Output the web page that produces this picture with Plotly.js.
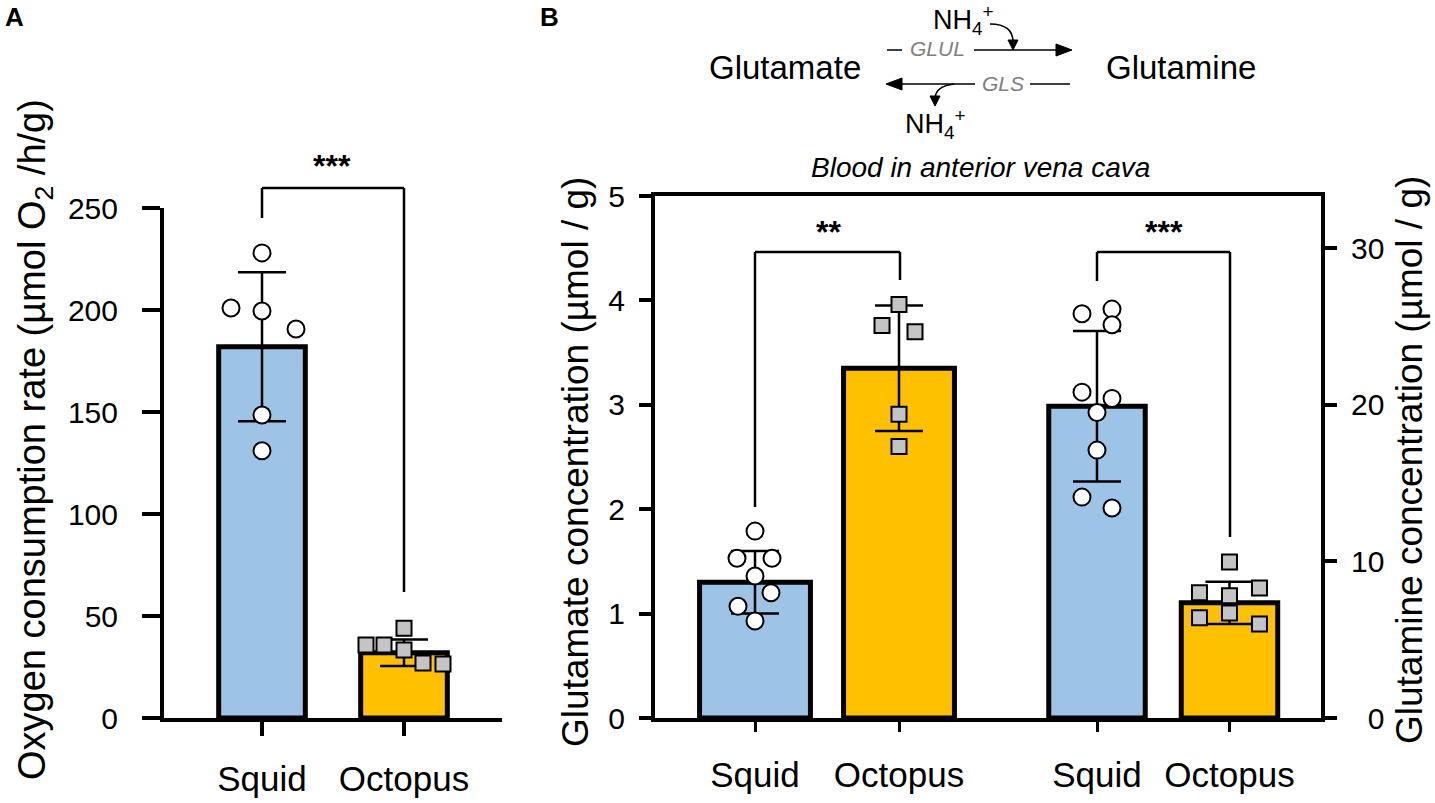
<!DOCTYPE html>
<html>
<head>
<meta charset="utf-8">
<script src="https://cdn.plot.ly/plotly-3.0.1.min.js"></script>
<style>body{margin:0;background:#fff}#chart{width:1435px;height:803px}</style>
</head>
<body>
<div id="chart"></div>
<script>
// ---------- data ----------
const speciesLabels = ['Squid', 'Octopus'];
const o2Mean = [182, 32];
const o2SD = [36.5, 6.5];
const o2Squid = [228, 201, 199.5, 190.7, 148.5, 131];
const o2Octopus = [35.8, 35.8, 44, 33.3, 27, 26.5];
const gluMean = [1.30, 3.35];
const gluSD = [0.30, 0.60];
const gluSquid = [1.79, 1.53, 1.53, 1.36, 1.20, 1.07, 0.93];
const gluOctopus = [3.96, 3.76, 3.70, 2.91, 2.60];
const glnMean = [19.9, 7.35];
const glnSD = [4.8, 1.35];
const glnSquid = [25.8, 26.1, 25.1, 20.8, 20.4, 19.5, 17.1, 14.1, 13.4];
const glnOctopus = [9.96, 8.3, 8.0, 7.8, 6.7, 6.4, 6.0];
const glnTickVals = [0, 10, 20, 30];
const glnTickText = ['\u20070', '10', '20', '30'];
const sigA = '***', sigGlu = '**', sigGln = '***';

// ---------- layout helpers (positions/styles) ----------
const W = 1435, H = 803;
const px = x => x / W, py = y => 1 - y / H;
const FONT = 'Liberation Sans, Arial, sans-serif';
const BLUE = '#9dc3e6', GOLD = '#ffc000', GREY = '#c4c4c4';
// point scatter offsets (pixels), relative to bar centre
const jitA = [[0, -31, 0, 34, 0, 0], [-38, -20, 0, 0, 19, 39]];
const jitGlu = [[0, -18, 17, 0, 16, -17, 0], [0, -17, 16, 0, 0]];
const jitGln = [[-15, 15, 15, -15, 15, 0, 0, -15, 15], [0, 30, -30, 0, 0, -30, 30]];
const unitA = 142, unitB = 144;
const posA = [0, 1];
const posGlu = [0, 1];
const posGln = [2.375, 3.295];

function pts(vals, pos, jit, unit, xa, ya, sym) {
  return {
    type: 'scatter', mode: 'markers', xaxis: xa, yaxis: ya, hoverinfo: 'skip', showlegend: false,
    x: vals.map((v, i) => pos + jit[i] / unit), y: vals,
    marker: sym === 'circle'
      ? {symbol: 'circle', size: 17, color: '#ffffff', line: {color: '#000', width: 2}}
      : {symbol: 'square', size: 15, color: GREY, line: {color: '#000', width: 2}}
  };
}
function bars(means, sd, pos, width, xa, ya) {
  return {
    type: 'bar', xaxis: xa, yaxis: ya, x: pos, y: means, width: width, showlegend: false,
    marker: {color: [BLUE, GOLD], line: {color: '#000', width: 5}},
    error_y: {type: 'data', array: sd, visible: true, color: '#000', thickness: 2.5, width: 24}
  };
}

const traces = [
  bars(o2Mean, o2SD, posA, 0.61, 'x', 'y'),
  pts(o2Squid, posA[0], jitA[0], unitA, 'x', 'y', 'circle'),
  pts(o2Octopus, posA[1], jitA[1], unitA, 'x', 'y', 'square'),
  bars(gluMean, gluSD, posGlu, 0.77, 'x2', 'y2'),
  pts(gluSquid, posGlu[0], jitGlu[0], unitB, 'x2', 'y2', 'circle'),
  pts(gluOctopus, posGlu[1], jitGlu[1], unitB, 'x2', 'y2', 'square'),
  bars(glnMean, glnSD, posGln, 0.67, 'x2', 'y3'),
  pts(glnSquid, posGln[0], jitGln[0], unitB, 'x2', 'y3', 'circle'),
  pts(glnOctopus, posGln[1], jitGln[1], unitB, 'x2', 'y3', 'square')
];

const axBase = {showline: true, linecolor: '#000', showgrid: false, zeroline: false, ticks: 'outside',
  tickcolor: '#000', fixedrange: true};

const line = (x0, y0, x1, y1, w) => ({type: 'line', xref: 'paper', yref: 'paper', x0: px(x0), y0: py(y0), x1: px(x1), y1: py(y1),
  line: {color: '#000', width: w || 2.5}});
const tri = (a, b, c) => ({type: 'path', xref: 'paper', yref: 'paper',
  path: `M ${px(a[0])},${py(a[1])} L ${px(b[0])},${py(b[1])} L ${px(c[0])},${py(c[1])} Z`,
  fillcolor: '#000', line: {color: '#000', width: 1}});
const curve = (a, c, b) => ({type: 'path', xref: 'paper', yref: 'paper',
  path: `M ${px(a[0])},${py(a[1])} Q ${px(c[0])},${py(c[1])} ${px(b[0])},${py(b[1])}`,
  line: {color: '#000', width: 1.5}});

const shapes = [
  // significance brackets
  line(262, 218, 262, 188), line(262, 188, 404, 188), line(404, 188, 404, 592),
  line(755, 507, 755, 252), line(755, 252, 900, 252), line(900, 252, 900, 280),
  line(1097, 281, 1097, 252), line(1097, 252, 1230, 252), line(1230, 252, 1230, 537),
  // reaction scheme
  line(887, 50, 902, 50, 1.5), line(974, 50, 1058, 50, 1.5), tri([1072, 50], [1056, 44], [1056, 56]),
  line(900, 84, 975, 84, 1.5), tri([886, 84], [902, 78], [902, 90]), line(1030, 84, 1070, 84, 1.5),
  curve([990, 24], [1013, 24], [1013, 42]), tri([1013, 50], [1008, 40], [1018, 40]),
  curve([954, 84], [936, 86], [935, 98]), tri([935, 106], [930, 96], [940, 96])
];

const ann = (t, x, y, size, extra) => Object.assign({text: t, x: px(x), y: py(y), xref: 'paper', yref: 'paper',
  showarrow: false, xanchor: 'center', yanchor: 'middle', font: {family: FONT, size: size, color: '#000'}}, extra || {});
const boldFont = s => ({font: {family: FONT, size: s, color: '#000', weight: 'bold'}});

const annotations = [
  ann('<b>A</b>', 14, 17, 26),
  ann('<b>B</b>', 549, 17, 26),
  ann('Oxygen consumption rate (µmol O<sub>2</sub> /h/g)', 35, 440, 38, {textangle: -90}),
  ann('Glutamate concentration (µmol / g)', 575, 462, 37, {textangle: -90}),
  ann('Glutamine concentration (µmol / g)', 1410, 460, 37, {textangle: -90}),
  ann('<i>Blood in anterior vena cava</i>', 980, 168, 28),
  ann(sigA, 332, 166, 32, boldFont(32)),
  ann(sigGlu, 828, 232, 32, boldFont(32)),
  ann(sigGln, 1164, 232, 32, boldFont(32)),
  ann('Glutamate', 785, 67, 33),
  ann('Glutamine', 1181, 67, 33),
  ann('<i>GLUL</i>', 937, 48, 21, {font: {family: FONT, size: 21, color: '#808080'}}),
  ann('<i>GLS</i>', 1003, 84, 21, {font: {family: FONT, size: 21, color: '#808080'}}),
  ann('NH<sub>4</sub><sup>+</sup>', 963, 20, 27),
  ann('NH<sub>4</sub><sup>+</sup>', 935, 124, 27)
];

const layout = {
  width: W, height: H, autosize: false, margin: {l: 0, r: 0, t: 0, b: 0},
  paper_bgcolor: '#fff', plot_bgcolor: 'rgba(0,0,0,0)', barmode: 'overlay', showlegend: false,
  font: {family: FONT, color: '#000'},
  xaxis: Object.assign({}, axBase, {domain: [px(164), px(502)], range: [(164 - 262) / unitA, (502 - 262) / unitA],
    tickvals: posA, ticktext: speciesLabels, linewidth: 4, ticklen: 14, tickwidth: 4,
    tickfont: {family: FONT, size: 35}, ticklabelstandoff: 13, anchor: 'y'}),
  yaxis: Object.assign({}, axBase, {domain: [1 - 718 / H, 1 - 208 / H], range: [0, 250], dtick: 50,
    linewidth: 4, ticklen: 18, tickwidth: 4, tickfont: {family: FONT, size: 30}, ticklabelstandoff: 18, anchor: 'x'}),
  xaxis2: Object.assign({}, axBase, {domain: [px(655), px(1321)], range: [(655 - 755) / unitB, (1321 - 755) / unitB],
    tickvals: posGlu.concat(posGln), ticktext: speciesLabels.concat(speciesLabels), linewidth: 4, mirror: true,
    ticklen: 10, tickwidth: 3, tickfont: {family: FONT, size: 35}, ticklabelstandoff: 13, anchor: 'y2'}),
  yaxis2: Object.assign({}, axBase, {domain: [1 - 718 / H, 1 - 196 / H], range: [0, 5], dtick: 1,
    linewidth: 4, ticklen: 12, tickwidth: 4, tickfont: {family: FONT, size: 30}, ticklabelstandoff: 8, anchor: 'x2'}),
  yaxis3: Object.assign({}, axBase, {domain: [1 - 718 / H, 1 - 196 / H], range: [0, 30 * 522 / 470],
    tickvals: glnTickVals, ticktext: glnTickText,
    linewidth: 4, ticklen: 12, tickwidth: 4, tickfont: {family: FONT, size: 30}, ticklabelstandoff: 8,
    overlaying: 'y2', side: 'right', anchor: 'x2'}),
  shapes: shapes,
  annotations: annotations
};

Plotly.newPlot('chart', traces, layout, {displayModeBar: false, staticPlot: true});
</script>
</body>
</html>
